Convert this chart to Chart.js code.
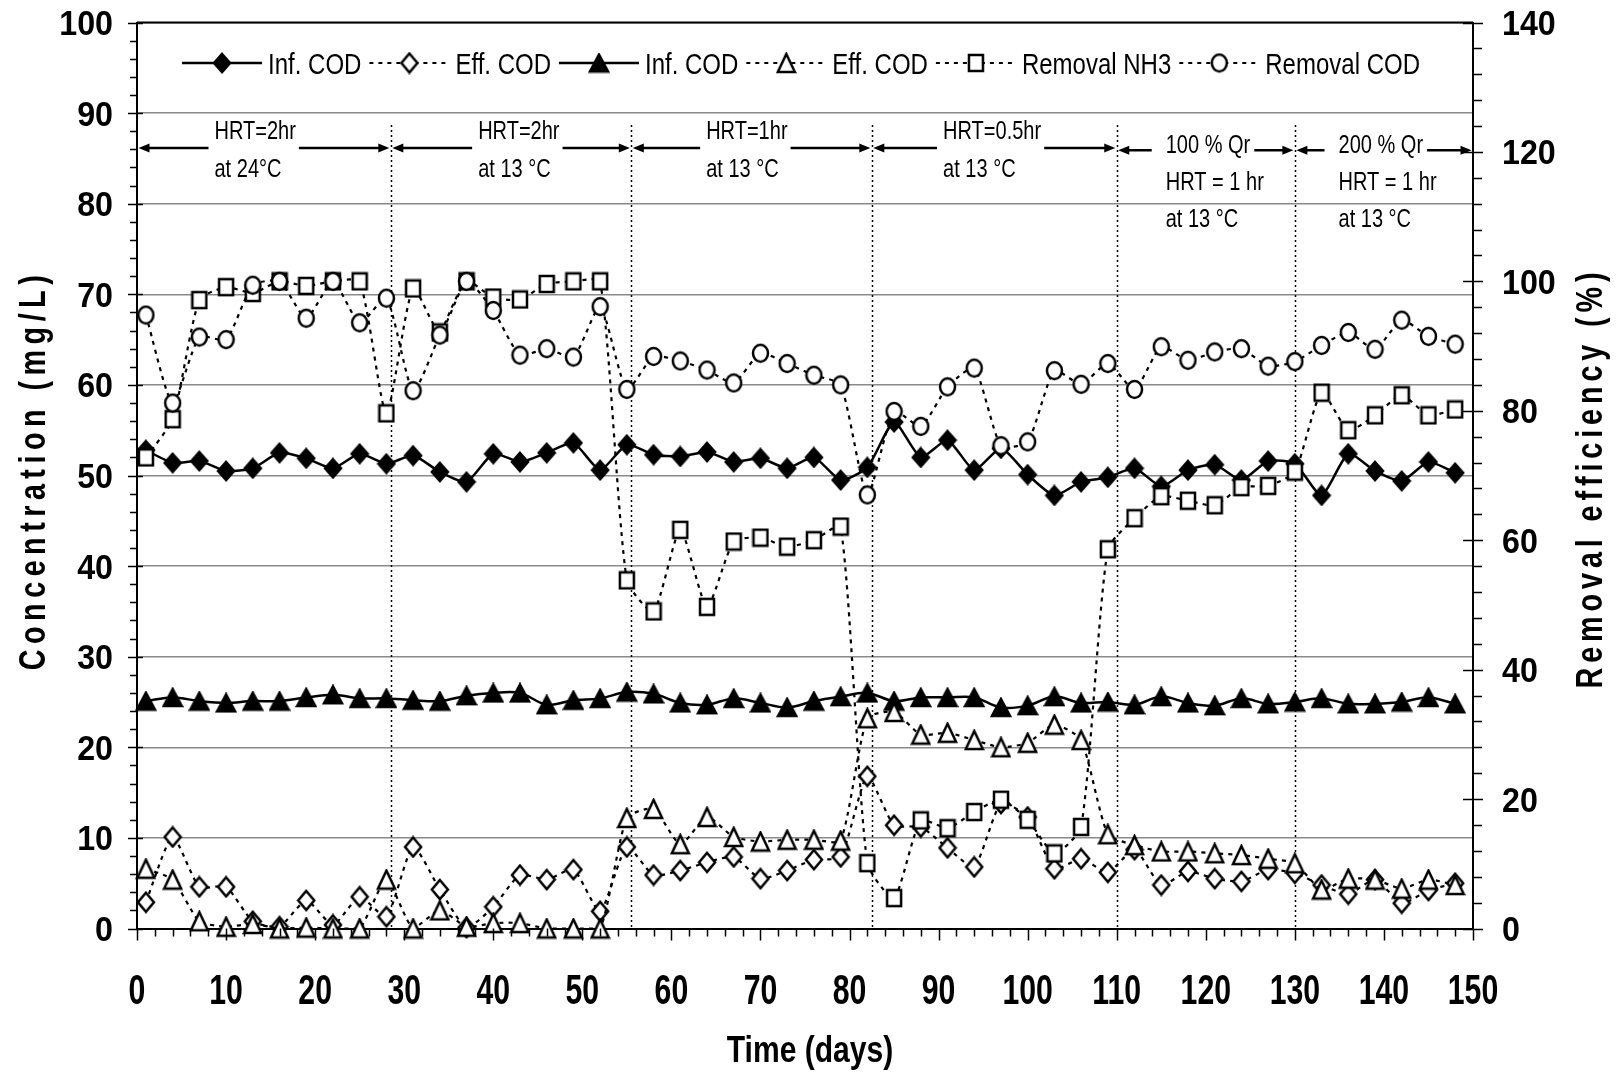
<!DOCTYPE html>
<html>
<head>
<meta charset="utf-8">
<script src="https://cdn.jsdelivr.net/npm/chart.js@4.4.1/dist/chart.umd.min.js"></script>
<style>
  html, body { margin: 0; padding: 0; background: #fff; }
  #chart { display: block; }
</style>
</head>
<body>
<canvas id="chart" width="1617" height="1075"></canvas>
<script>
// sampling days (every 3 days)
const days = [1, 4, 7, 10, 13, 16, 19, 22, 25, 28, 31, 34, 37, 40, 43, 46, 49, 52, 55,
  58, 61, 64, 67, 70, 73, 76, 79, 82, 85, 88, 91, 94, 97, 100, 103, 106,
  109, 112, 115, 118, 121, 124, 127, 130, 133, 136, 139, 142, 145, 148];

// concentrations (mg/L), left axis
const infCodA = [52.8, 51.4, 51.6, 50.5, 50.8, 52.5, 51.9, 50.8, 52.4, 51.3, 52.2, 50.4, 49.3, 52.4, 51.5, 52.5, 53.6, 50.6, 53.4,
  52.3, 52.1, 52.6, 51.5, 51.9, 50.8, 52.0, 49.5, 50.9, 55.9, 52.0, 53.9, 50.6, 53.0, 50.1, 47.8, 49.3,
  49.8, 50.8, 48.8, 50.6, 51.2, 49.5, 51.6, 51.3, 47.8, 52.4, 50.5, 49.4, 51.5, 50.3];
const effCodA = [2.9, 10.1, 4.6, 4.6, 0.8, 0.2, 3.1, 0.4, 3.5, 1.3, 9.0, 4.3, 0.1, 2.4, 5.9, 5.4, 6.5, 1.9, 9.0,
  5.9, 6.4, 7.3, 7.9, 5.5, 6.4, 7.6, 7.9, 16.8, 11.4, 11.2, 8.9, 6.8, 13.8, 12.3, 6.6, 7.7,
  6.2, 8.7, 4.8, 6.3, 5.5, 5.2, 6.5, 6.1, 4.8, 3.8, 5.4, 2.8, 4.2, 5.0];
const infCodB = [25.1, 25.5, 25.1, 24.9, 25.1, 25.1, 25.5, 25.8, 25.4, 25.4, 25.2, 25.1, 25.7, 26.0, 26.0, 24.7, 25.2, 25.4, 26.1,
  25.9, 24.9, 24.7, 25.4, 24.9, 24.4, 25.1, 25.6, 26.0, 25.1, 25.5, 25.5, 25.5, 24.4, 24.6, 25.6, 24.9,
  25.0, 24.7, 25.6, 24.9, 24.6, 25.4, 24.8, 25.0, 25.4, 24.8, 24.8, 25.0, 25.5, 24.8];
const effCodB = [6.6, 5.4, 0.8, 0.2, 0.5, 0, 0.1, 0, 0, 5.4, 0, 2.0, 0.2, 0.6, 0.6, 0, 0, 0, 12.2,
  13.2, 9.3, 12.3, 10.1, 9.6, 9.8, 9.8, 9.7, 23.2, 23.9, 21.4, 21.6, 20.8, 20.0, 20.5, 22.5, 20.8,
  10.4, 9.2, 8.5, 8.5, 8.3, 8.1, 7.7, 7.2, 4.3, 5.5, 5.4, 4.4, 5.4, 4.8];

// removal efficiencies (%), right axis
const removalNH3 = [72.8, 78.7, 97.1, 99.1, 98.2, 100, 99.3, 100, 100, 79.6, 98.9, 92.1, 100, 97.5, 97.2, 99.6, 100, 100, 53.8,
  49.0, 61.6, 49.7, 59.8, 60.4, 59.0, 60.0, 62.1, 10.1, 4.7, 16.7, 15.5, 18.0, 19.9, 16.8, 11.6, 15.7,
  58.6, 63.4, 66.8, 66.1, 65.4, 68.2, 68.4, 70.6, 82.8, 77.0, 79.3, 82.4, 79.3, 80.2];
const removalCOD = [94.8, 81.2, 91.4, 91.0, 99.4, 100, 94.3, 100, 93.6, 97.4, 83.1, 91.7, 100, 95.5, 88.6, 89.6, 88.3, 96.1, 83.3,
  88.4, 87.7, 86.3, 84.3, 88.9, 87.3, 85.5, 84.0, 67.0, 79.9, 77.6, 83.7, 86.6, 74.6, 75.2, 86.2, 84.1,
  87.3, 83.3, 89.9, 87.8, 89.1, 89.6, 86.9, 87.6, 90.1, 92.1, 89.5, 94.0, 91.5, 90.3];

const seriesNames = ['Inf. COD', 'Eff. COD', 'Inf. COD', 'Eff. COD', 'Removal NH3', 'Removal COD'];

// operating phases (day boundaries) and their labels
const phaseBounds = [0, 28.5, 55.5, 82.5, 110, 130, 150];
const phaseLabels = [
  ['HRT=2hr', 'at 24°C'],
  ['HRT=2hr', 'at 13 °C'],
  ['HRT=1hr', 'at 13 °C'],
  ['HRT=0.5hr', 'at 13 °C'],
  ['100 % Qr', 'HRT = 1 hr', 'at 13 °C'],
  ['200 % Qr', 'HRT = 1 hr', 'at 13 °C']
];

const FONT = '"Liberation Sans", Arial, sans-serif';

// markers drawn to small canvases (slightly tall, like the original)
function marker(shape, filled, w, h) {
  const c = document.createElement('canvas');
  c.width = w + 4; c.height = h + 4;
  const g = c.getContext('2d');
  g.translate(c.width / 2, c.height / 2);
  g.beginPath();
  if (shape === 'diamond') {
    g.moveTo(0, -h / 2); g.lineTo(w / 2, 0); g.lineTo(0, h / 2); g.lineTo(-w / 2, 0); g.closePath();
  } else if (shape === 'triangle') {
    g.moveTo(0, -h / 2); g.lineTo(w / 2, h / 2); g.lineTo(-w / 2, h / 2); g.closePath();
  } else if (shape === 'square') {
    g.rect(-w / 2, -h / 2, w, h);
  } else {
    g.ellipse(0, 0, w / 2, h / 2, 0, 0, Math.PI * 2);
  }
  g.fillStyle = filled ? '#000' : '#fff';
  g.fill();
  g.lineWidth = 2.5;
  g.strokeStyle = '#000';
  g.stroke();
  return c;
}

const markers = [
  marker('diamond', true, 16, 18),
  marker('diamond', false, 16, 19),
  marker('triangle', true, 18, 17),
  marker('triangle', false, 17, 18),
  marker('square', false, 14, 16),
  marker('circle', false, 15, 17)
];
const solid = [true, false, true, false, false, false];
const dotted = [4, 5];

function pts(vals) {
  return days.map((d, i) => ({ x: d, y: vals[i] }));
}

const allValues = [infCodA, effCodA, infCodB, effCodB, removalNH3, removalCOD];
const datasets = allValues.map((vals, i) => ({
  label: seriesNames[i],
  data: pts(vals),
  yAxisID: i >= 4 ? 'y2' : 'y',
  borderColor: '#000',
  borderWidth: solid[i] ? 2.5 : 2.2,
  borderDash: solid[i] ? [] : dotted,
  tension: i === 2 ? 0.35 : 0.2,
  pointStyle: markers[i],
  pointRadius: 8,
  pointHoverRadius: 8,
  clip: false,
  order: 5 - i
}));

function drawText(ctx, str, x, y, o) {
  ctx.save();
  ctx.font = o.font;
  ctx.translate(x, y);
  if (o.rot) ctx.rotate(o.rot);
  ctx.scale(o.sx || 1, 1);
  if (o.spacing) ctx.letterSpacing = o.spacing + 'px';
  ctx.textAlign = o.align || 'left';
  ctx.textBaseline = 'alphabetic';
  ctx.fillStyle = '#000';
  ctx.fillText(str, 0, 0);
  ctx.restore();
}

function textWidth(ctx, str, font, sx) {
  ctx.save();
  ctx.font = font;
  const w = ctx.measureText(str).width * (sx || 1);
  ctx.restore();
  return w;
}

// spread a title over a given length with letter spacing
function spacedTitle(ctx, str, cx, cy, font, sx, len, rot) {
  const w = textWidth(ctx, str, font, 1);
  const sp = (len / sx - w) / (str.length - 1);
  drawText(ctx, str, cx, cy, { font, sx, rot, spacing: sp, align: 'center' });
}

function arrowHead(ctx, tipX, yy, dir) {
  ctx.beginPath();
  ctx.moveTo(tipX, yy);
  ctx.lineTo(tipX - dir * 11, yy - 4.5);
  ctx.lineTo(tipX - dir * 11, yy + 4.5);
  ctx.closePath();
  ctx.fill();
}

const annFont = '26px ' + FONT, annSx = 0.77;
const textLeftDays = [8.7, 38.3, 63.9, 90.5, 115.5, 134.9];

const decor = {
  id: 'decor',
  beforeDatasetsDraw(chart) {
    const { ctx, chartArea: a, scales: { x, y } } = chart;
    ctx.save();
    ctx.strokeStyle = '#000';
    ctx.fillStyle = '#000';
    ctx.lineWidth = 2;
    ctx.beginPath(); ctx.moveTo(a.left, a.top); ctx.lineTo(a.right, a.top); ctx.stroke();

    // phase dividers
    ctx.lineWidth = 1.5;
    ctx.setLineDash([2, 3]);
    phaseBounds.slice(1, -1).forEach(b => {
      const px = Math.round(x.getPixelForValue(b)) + 0.5;
      ctx.beginPath(); ctx.moveTo(px, y.getPixelForValue(88.7)); ctx.lineTo(px, a.bottom); ctx.stroke();
    });
    ctx.setLineDash([]);

    // phase labels and arrows
    phaseLabels.forEach((lines, p) => {
      const x0 = x.getPixelForValue(phaseBounds[p]);
      const x1 = x.getPixelForValue(phaseBounds[p + 1]);
      const tx = x.getPixelForValue(textLeftDays[p]);
      const three = lines.length === 3;
      const base = three ? [85.6, 81.5, 77.4] : [87.1, 83.0];
      lines.forEach((s, k) => drawText(ctx, s, tx, y.getPixelForValue(base[k]), { font: annFont, sx: annSx }));
      const ay = y.getPixelForValue(three ? 85.9 : 86.15);
      let g0, g1;
      if (three) {
        g0 = tx - 14; g1 = tx + textWidth(ctx, lines[0], annFont, annSx) + 4;
      } else {
        const mw = Math.max(...lines.map(s => textWidth(ctx, s, annFont, annSx)));
        g0 = tx - 6; g1 = tx + mw + 3;
      }
      ctx.lineWidth = 2.5;
      ctx.beginPath();
      ctx.moveTo(x0 + 6, ay); ctx.lineTo(g0, ay);
      ctx.moveTo(g1, ay); ctx.lineTo(x1 - 6, ay);
      ctx.stroke();
      arrowHead(ctx, x0 + 1.5, ay, -1);
      arrowHead(ctx, x1 - 1.5, ay, 1);
    });

    // legend
    const lf = '30px ' + FONT, lsx = 0.8;
    const lineLen = 80, tGap = 6, iGap = 8;
    const widths = seriesNames.map(n => textWidth(ctx, n, lf, lsx));
    const total = widths.reduce((s, w) => s + lineLen + tGap + w, 0) + iGap * (seriesNames.length - 1);
    let lx = 801 - total / 2;
    const ly = 63;
    seriesNames.forEach((n, i) => {
      ctx.lineWidth = solid[i] ? 2.5 : 2.2;
      ctx.setLineDash(solid[i] ? [] : dotted);
      ctx.beginPath(); ctx.moveTo(lx, ly); ctx.lineTo(lx + lineLen, ly); ctx.stroke();
      ctx.setLineDash([]);
      const m = markers[i];
      ctx.drawImage(m, lx + lineLen / 2 - m.width / 2, ly - m.height / 2);
      drawText(ctx, n, lx + lineLen + tGap, ly + 10.5, { font: lf, sx: lsx });
      lx += lineLen + tGap + widths[i] + iGap;
    });
    ctx.restore();
  },
  afterDraw(chart) {
    const { ctx, chartArea: a, scales: { x, y, y2 } } = chart;
    ctx.save();
    ctx.strokeStyle = '#000';
    ctx.lineWidth = 1.5;
    ctx.beginPath();
    // left axis ticks
    for (let v = 0; v <= 100; v += 2) {
      const py = Math.round(y.getPixelForValue(v)) + 0.5;
      const major = v % 10 === 0;
      ctx.moveTo(a.left - (major ? 9 : 7), py); ctx.lineTo(a.left + (major ? 6 : 0), py);
    }
    // right axis ticks
    for (let v = 0; v <= 140; v += 4) {
      const py = Math.round(y2.getPixelForValue(v)) + 0.5;
      const major = v % 20 === 0;
      ctx.moveTo(a.right - (major ? 10 : 0), py); ctx.lineTo(a.right + (major ? 10 : 9), py);
    }
    // x axis ticks
    for (let v = 0; v <= 150; v += 2) {
      const px = Math.round(x.getPixelForValue(v)) + 0.5;
      const major = v % 10 === 0;
      ctx.moveTo(px, a.bottom); ctx.lineTo(px, a.bottom + (major ? 12 : 8));
    }
    ctx.stroke();

    const tf = 'bold 35px ' + FONT;
    y.ticks.forEach(t => drawText(ctx, String(t.value), a.left - 24, y.getPixelForValue(t.value) + 12.5, { font: tf, sx: 0.92, align: 'right' }));
    y2.ticks.forEach(t => drawText(ctx, String(t.value), a.right + 29, y2.getPixelForValue(t.value) + 12.5, { font: tf, sx: 0.92 }));
    x.ticks.forEach(t => drawText(ctx, String(t.value), x.getPixelForValue(t.value), 1004, { font: 'bold 42px ' + FONT, sx: 0.72, align: 'center' }));

    drawText(ctx, 'Time (days)', 810, 1062, { font: 'bold 36px ' + FONT, sx: 0.835, align: 'center' });
    spacedTitle(ctx, 'Concentration (mg/L)', 45, 470, 'bold 36px ' + FONT, 0.8, 395, -Math.PI / 2);
    spacedTitle(ctx, 'Removal efficiency (%)', 1602, 478, 'bold 36px ' + FONT, 0.8, 416, -Math.PI / 2);
    ctx.restore();
  }
};

new Chart(document.getElementById('chart'), {
  type: 'line',
  data: { datasets },
  options: {
    responsive: false,
    animation: false,
    devicePixelRatio: 1,
    layout: { padding: { top: 22.5, left: 0, right: 0, bottom: 0 }, autoPadding: false },
    plugins: { legend: { display: false }, tooltip: { enabled: false } },
    scales: {
      x: {
        type: 'linear', min: 0, max: 150,
        ticks: { stepSize: 10, display: false },
        grid: { display: false, drawTicks: false },
        border: { display: true, color: '#000', width: 2 },
        afterFit: s => { s.height = 146.5; }
      },
      y: {
        position: 'left', min: 0, max: 100,
        ticks: { stepSize: 10, display: false },
        grid: { color: '#8a8a8a', lineWidth: 1.5, drawTicks: false },
        border: { display: true, color: '#000', width: 2 },
        afterFit: s => { s.width = 137; }
      },
      y2: {
        position: 'right', min: 0, max: 140,
        ticks: { stepSize: 20, display: false },
        grid: { display: false, drawTicks: false },
        border: { display: true, color: '#000', width: 2 },
        afterFit: s => { s.width = 144; }
      }
    }
  },
  plugins: [decor]
});
</script>
</body>
</html>
